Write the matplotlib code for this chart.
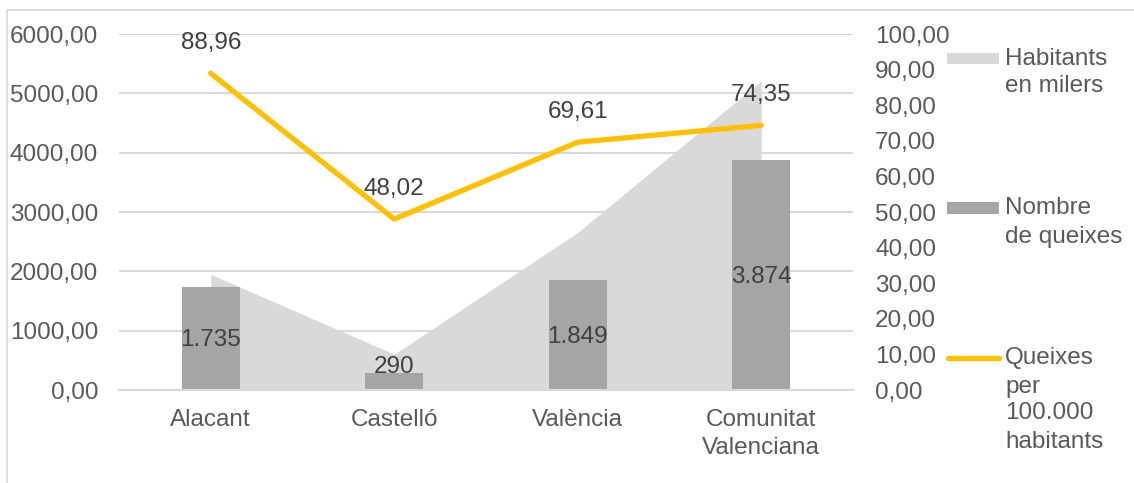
import matplotlib.pyplot as plt
from matplotlib.patches import Rectangle
from matplotlib.lines import Line2D

plt.rcParams['font.family'] = ['Liberation Sans', 'DejaVu Sans']

categories = ['Alacant', 'Castelló', 'València', 'Comunitat\nValenciana']
habitants = [1950.3, 603.9, 2656.2, 5210.5]
queixes = [1735, 290, 1849, 3874]
per_100k = [88.96, 48.02, 69.61, 74.35]
bar_labels = ['1.735', '290', '1.849', '3.874']
line_labels = ['88,96', '48,02', '69,61', '74,35']

TXT = '#595959'
GRID = '#D9D9D9'
AREA = '#D9D9D9'
BAR = '#A5A5A5'
GOLD = '#FFC000'
FS = 17.5

fig = plt.figure(figsize=(11.34, 4.83), dpi=100)
ax = fig.add_axes([0.1049, 0.1925, 0.6473, 0.7371])
ax2 = ax.twinx()

x = list(range(len(categories)))
ax.fill_between(x, habitants, 0, color=AREA, lw=0, zorder=1)
ax.bar(x, queixes, width=0.316, color=BAR, zorder=2)
for xi, v, t in zip(x, queixes, bar_labels):
    ax.text(xi, max(v / 2, 420) - 30, t, ha='center', va='center', fontsize=FS, color='#404040', zorder=3)

ax.set_xlim(-0.5, 3.5)
ax.set_ylim(0, 6000)
ax.set_yticks(range(0, 6001, 1000))
ax.set_yticklabels([f'{v},00' for v in range(0, 6001, 1000)])
ax.set_xticks(x)
ax.set_xticklabels(categories, linespacing=1.3)
ax.yaxis.grid(True, color=GRID, lw=1.5)
ax.set_axisbelow(True)
ax.tick_params(axis='y', length=0, pad=15, labelsize=FS, labelcolor=TXT)
ax.tick_params(axis='x', length=0, pad=14, labelsize=FS, labelcolor=TXT)
for s in ax.spines.values():
    s.set_visible(False)
for s in ax2.spines.values():
    s.set_visible(False)
ax.spines['bottom'].set_visible(True)
ax.spines['bottom'].set_color(GRID)
ax.spines['bottom'].set_linewidth(1.5)

ax2.plot(x, per_100k, color=GOLD, lw=3.8, solid_capstyle='round', solid_joinstyle='round', zorder=5)
for xi, v, t in zip(x, per_100k, line_labels):
    ax2.annotate(t, (xi, v), xytext=(0, 22), textcoords='offset points',
                 ha='center', va='center', fontsize=FS, color='#404040')
ax2.set_ylim(0, 100)
ax2.set_yticks(range(0, 101, 10))
ax2.set_yticklabels([f'{v},00' for v in range(0, 101, 10)])
ax2.tick_params(axis='y', length=0, pad=16, labelsize=FS, labelcolor=TXT)

# legend drawn by hand on the right side
W, H = 1134, 483
def fx(px):
    return px / W
def fy(py):
    return 1 - py / H

fig.add_artist(Rectangle((fx(947), fy(64)), fx(52), 11 / H, color=AREA, lw=0))
fig.add_artist(Rectangle((fx(947), fy(214)), fx(52), 12 / H, color=BAR, lw=0))
fig.add_artist(Line2D([fx(948), fx(999)], [fy(358), fy(358)], color=GOLD, lw=3.8,
                      solid_capstyle='round'))
legend_lines = [('Habitants', 59), ('en milers', 86),
                ('Nombre', 208), ('de queixes', 237),
                ('Queixes', 358), ('per', 387), ('100.000', 413), ('habitants', 442)]
for t, py in legend_lines:
    fig.text(fx(1005), fy(py), t, ha='left', va='center', fontsize=FS, color=TXT)

# chart frame
fig.add_artist(Rectangle((fx(7), fy(490)), fx(1140), 480 / H, fill=False,
                         edgecolor=GRID, lw=1.2))

fig.savefig('out.png', dpi=100)
